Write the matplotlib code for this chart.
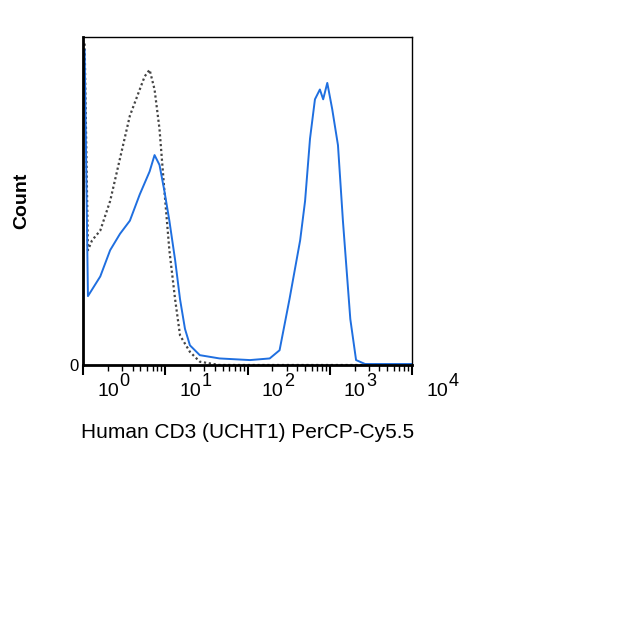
import numpy as np
import matplotlib
matplotlib.use("Agg")
import matplotlib.pyplot as plt
from matplotlib.ticker import LogLocator, NullFormatter, FixedLocator

plt.rcParams["font.family"] = ["Liberation Sans", "DejaVu Sans"]

# log10 of fluorescence, relative count
blue_logx = [0.02, 0.06, 0.11, 0.21, 0.33, 0.45, 0.57, 0.69, 0.81, 0.87, 0.93, 0.99, 1.05,
             1.12, 1.18, 1.24, 1.30, 1.42, 1.66, 2.03, 2.27, 2.39, 2.51, 2.64, 2.70, 2.76,
             2.82, 2.88, 2.92, 2.97, 3.03, 3.10, 3.16, 3.25, 3.32, 3.43, 4.0]
blue_y = [0.96, 0.21, 0.23, 0.27, 0.35, 0.40, 0.44, 0.52, 0.59, 0.64, 0.61, 0.53, 0.44,
          0.32, 0.20, 0.11, 0.06, 0.03, 0.02, 0.015, 0.02, 0.045, 0.20, 0.38, 0.50, 0.69,
          0.81, 0.84, 0.81, 0.86, 0.78, 0.67, 0.44, 0.14, 0.015, 0.003, 0.003]
gray_logx = [0.02, 0.06, 0.11, 0.21, 0.33, 0.45, 0.57, 0.69, 0.75, 0.81, 0.87, 0.93, 0.99,
             1.05, 1.12, 1.18, 1.30, 1.42, 1.66, 2.0, 4.0]
gray_y = [0.98, 0.35, 0.38, 0.41, 0.50, 0.63, 0.76, 0.84, 0.88, 0.90, 0.84, 0.72, 0.53,
          0.35, 0.20, 0.09, 0.04, 0.01, 0.0, 0.0, 0.0]
decades = [0, 1, 2, 3, 4]

fig = plt.figure(figsize=(6.35, 6.23), dpi=100)
ax = fig.add_axes([83/635, 1-365/623, 329/635, 328/623])
ax.plot(10**np.array(gray_logx), gray_y, color="#444444", ls=(0, (1, 1.2)), lw=1.6)
ax.plot(10**np.array(blue_logx), blue_y, color="#1f6fe0", lw=1.4)
ax.set_xscale("log")
ax.set_xlim(1, 1e4)
ax.set_ylim(0, 1.0)
ax.set_yticks([0])
ax.set_yticklabels(["0"])
ax.xaxis.set_major_locator(FixedLocator([10.0**d for d in decades]))
ax.xaxis.set_minor_locator(LogLocator(base=10, subs=np.arange(2, 10), numticks=20))
ax.xaxis.set_major_formatter(NullFormatter())
ax.xaxis.set_minor_formatter(NullFormatter())
ax.tick_params(axis="x", which="major", length=7, width=1.5, direction="out")
ax.tick_params(axis="x", which="minor", length=4, width=1)
ax.tick_params(axis="y", length=0, labelsize=12)
# decade labels: "10" with a large exponent, shifted right of the tick
for d in decades:
    ax.annotate("10", (10.0**d, 0), xycoords=("data", "axes fraction"),
                xytext=(18, -13), textcoords="offset points", ha="center", va="top",
                fontsize=14)
    ax.annotate(str(d), (10.0**d, 0), xycoords=("data", "axes fraction"),
                xytext=(30, -6), textcoords="offset points", ha="center", va="top",
                fontsize=13)
for s in ax.spines.values():
    s.set_linewidth(1.0)
ax.spines["bottom"].set_linewidth(2)
ax.spines["left"].set_linewidth(2)
ax.set_xlabel("Human CD3 (UCHT1) PerCP-Cy5.5", fontsize=15, labelpad=31)
ax.set_ylabel("Count", fontsize=14, fontweight="bold", labelpad=28)
fig.savefig("out.png", dpi=100)
